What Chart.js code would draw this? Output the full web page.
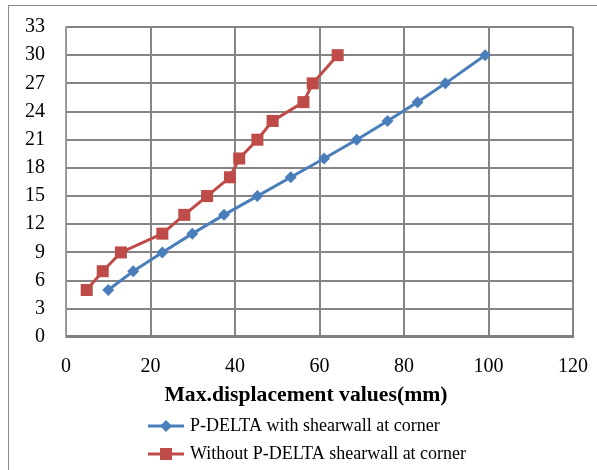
<!DOCTYPE html>
<html>
<head>
<meta charset="utf-8">
<script src="https://cdn.jsdelivr.net/npm/chart.js@4.4.1/dist/chart.umd.min.js"></script>
<style>
body { margin: 0; background: #fff; }
#wrap { position: relative; width: 597px; height: 470px; overflow: hidden; }
#frame { position: absolute; left: 8px; top: 5px; width: 600px; height: 480px; border-left: 1px solid #8c8c8c; border-top: 1px solid #8c8c8c; }
canvas { position: absolute; left: 0; top: 0; }
</style>
</head>
<body>
<div id="wrap">
  <div id="frame"></div>
  <canvas id="dispChart" width="597" height="470"></canvas>
</div>
<script>
// storey levels (y) and max displacement in mm (x)
const storeys = [5, 7, 9, 11, 13, 15, 17, 19, 21, 23, 25, 27, 30];
const withPDelta = [10.0, 15.9, 22.8, 29.9, 37.4, 45.3, 53.2, 61.1, 68.8, 76.1, 83.2, 89.8, 99.2];
const withoutPDelta = [4.9, 8.7, 13.0, 22.8, 28.0, 33.4, 38.8, 41.0, 45.3, 48.9, 56.2, 58.4, 64.3];
const seriesNames = ['P-DELTA with shearwall at corner', 'Without P-DELTA shearwall at corner'];

const blue = '#4a7ebb';
const red = '#be4b48';
const serif = '"Liberation Serif", "Times New Roman", serif';

function toPoints(xs) {
    return xs.map((x, i) => ({ x: x, y: storeys[i] }));
}

// little line + marker picture for the legend
function legendIcon(color, shape) {
    const c = document.createElement('canvas');
    c.width = 36;
    c.height = 14;
    const g = c.getContext('2d');
    g.strokeStyle = color;
    g.lineWidth = 3;
    g.beginPath();
    g.moveTo(0, 7);
    g.lineTo(36, 7);
    g.stroke();
    g.fillStyle = color;
    g.beginPath();
    if (shape === 'diamond') {
        g.moveTo(18, 1); g.lineTo(24, 7); g.lineTo(18, 13); g.lineTo(12, 7);
    } else {
        g.rect(12, 1, 12, 12);
    }
    g.fill();
    return c;
}

// move the wrapped legend rows so they share one left edge
const legendShift = {
    id: 'legendShift',
    afterLayout(chart) {
        const lg = chart.legend;
        const w = lg.right - lg.left;
        lg.left = 141;
        lg.right = lg.left + w;
    }
};

const ctx = document.getElementById('dispChart').getContext('2d');
new Chart(ctx, {
    type: 'line',
    data: {
        datasets: [
            {
                label: seriesNames[0],
                data: toPoints(withPDelta),
                borderColor: blue,
                backgroundColor: blue,
                borderWidth: 3,
                pointStyle: 'rectRot',
                pointRadius: 6,
                pointHoverRadius: 6,
                pointBorderWidth: 0,
                fill: false,
                tension: 0
            },
            {
                label: seriesNames[1],
                data: toPoints(withoutPDelta),
                borderColor: red,
                backgroundColor: red,
                borderWidth: 3,
                pointStyle: 'rect',
                pointRadius: 8.5,
                pointHoverRadius: 8.5,
                pointBorderWidth: 0,
                fill: false,
                tension: 0
            }
        ]
    },
    options: {
        responsive: false,
        animation: false,
        layout: {
            padding: { top: 27, right: 24, left: 0, bottom: -3 }
        },
        plugins: {
            tooltip: { enabled: false },
            legend: {
                position: 'bottom',
                align: 'start',
                labels: {
                    usePointStyle: true,
                    pointStyleWidth: 30,
                    padding: 10,
                    color: '#000',
                    font: { family: serif, size: 18 },
                    generateLabels: function (chart) {
                        return [
                            { text: seriesNames[0], pointStyle: legendIcon(blue, 'diamond'), fillStyle: blue, strokeStyle: blue, lineWidth: 0, datasetIndex: 0 },
                            { text: seriesNames[1], pointStyle: legendIcon(red, 'square'), fillStyle: red, strokeStyle: red, lineWidth: 0, datasetIndex: 1 }
                        ];
                    }
                }
            }
        },
        scales: {
            x: {
                type: 'linear',
                min: 0,
                max: 120,
                afterFit: function (scale) { scale.paddingRight = 0; scale.paddingLeft = 0; },
                ticks: {
                    stepSize: 20,
                    padding: 18,
                    color: '#000',
                    font: { family: serif, size: 20 }
                },
                grid: { color: '#858585', lineWidth: 2, drawTicks: false },
                border: { color: '#808080', width: 3 },
                title: {
                    display: true,
                    text: 'Max.displacement values(mm)     ',
                    color: '#000',
                    padding: { top: -15, bottom: -1 },
                    font: { family: serif, size: 21.7, weight: 'bold' }
                }
            },
            y: {
                min: 0,
                max: 33,
                afterFit: function (scale) { scale.width = 66; scale.paddingTop = 0; scale.paddingBottom = 0; },
                ticks: {
                    stepSize: 3,
                    padding: 21,
                    color: '#000',
                    font: { family: serif, size: 20 }
                },
                grid: { color: '#858585', lineWidth: 2, drawTicks: false },
                border: { color: '#a0a0a0', width: 1.5 }
            }
        }
    },
    plugins: [legendShift]
});
</script>
</body>
</html>
